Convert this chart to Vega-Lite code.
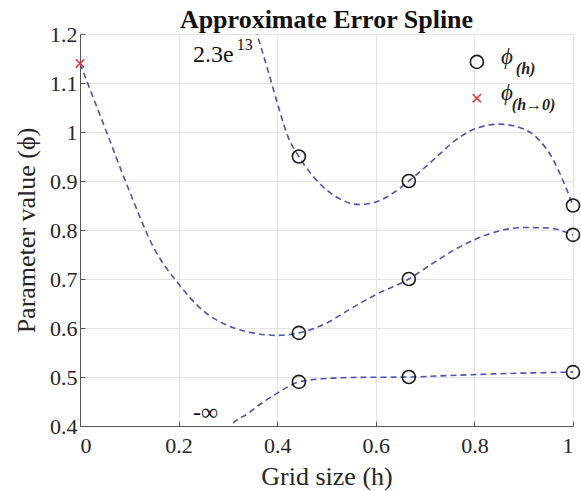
{
  "$schema": "https://vega.github.io/schema/vega-lite/v6.json",
  "width": 493,
  "height": 392,
  "autosize": {"type": "none"},
  "padding": {"left": 80, "top": 34, "right": 8, "bottom": 65},
  "background": "white",
  "title": {
    "text": "Approximate Error Spline",
    "font": "Liberation Serif, Times New Roman, serif",
    "fontSize": 26,
    "fontWeight": "bold",
    "color": "#111111",
    "anchor": "middle",
    "offset": -10
  },
  "config": {
    "view": {"stroke": null},
    "axis": {
      "labelFont": "Liberation Serif, Times New Roman, serif",
      "titleFont": "Liberation Serif, Times New Roman, serif",
      "labelFontSize": 22,
      "titleFontSize": 26,
      "titleFontWeight": "normal",
      "labelColor": "#262626",
      "titleColor": "#262626",
      "domainColor": "#555555",
      "tickColor": "#555555",
      "gridColor": "#e4e4e4",
      "gridWidth": 1
    }
  },
  "datasets": {
    "curves": [
      {"series": "upper", "h": 0.35, "phi": 1.23},
      {"series": "upper", "h": 0.359, "phi": 1.2},
      {"series": "upper", "h": 0.38, "phi": 1.13},
      {"series": "upper", "h": 0.4, "phi": 1.06},
      {"series": "upper", "h": 0.422, "phi": 0.99},
      {"series": "upper", "h": 0.444, "phi": 0.95},
      {"series": "upper", "h": 0.47, "phi": 0.913},
      {"series": "upper", "h": 0.5, "phi": 0.882},
      {"series": "upper", "h": 0.53, "phi": 0.862},
      {"series": "upper", "h": 0.565, "phi": 0.852},
      {"series": "upper", "h": 0.6, "phi": 0.857},
      {"series": "upper", "h": 0.63, "phi": 0.872},
      {"series": "upper", "h": 0.667, "phi": 0.9},
      {"series": "upper", "h": 0.72, "phi": 0.946},
      {"series": "upper", "h": 0.76, "phi": 0.982},
      {"series": "upper", "h": 0.8, "phi": 1.006},
      {"series": "upper", "h": 0.85, "phi": 1.016},
      {"series": "upper", "h": 0.9, "phi": 1.006},
      {"series": "upper", "h": 0.93, "phi": 0.985},
      {"series": "upper", "h": 0.96, "phi": 0.943},
      {"series": "upper", "h": 0.98, "phi": 0.9},
      {"series": "upper", "h": 1.0, "phi": 0.85},
      {"series": "middle", "h": 0.0, "phi": 1.14},
      {"series": "middle", "h": 0.05, "phi": 1.01},
      {"series": "middle", "h": 0.1, "phi": 0.88},
      {"series": "middle", "h": 0.15, "phi": 0.763},
      {"series": "middle", "h": 0.2, "phi": 0.69},
      {"series": "middle", "h": 0.25, "phi": 0.635},
      {"series": "middle", "h": 0.3, "phi": 0.605},
      {"series": "middle", "h": 0.35, "phi": 0.59},
      {"series": "middle", "h": 0.4, "phi": 0.585},
      {"series": "middle", "h": 0.444, "phi": 0.59},
      {"series": "middle", "h": 0.5, "phi": 0.61},
      {"series": "middle", "h": 0.55, "phi": 0.64},
      {"series": "middle", "h": 0.6, "phi": 0.668},
      {"series": "middle", "h": 0.667, "phi": 0.7},
      {"series": "middle", "h": 0.72, "phi": 0.735},
      {"series": "middle", "h": 0.76, "phi": 0.76},
      {"series": "middle", "h": 0.8, "phi": 0.78},
      {"series": "middle", "h": 0.85, "phi": 0.798},
      {"series": "middle", "h": 0.9, "phi": 0.805},
      {"series": "middle", "h": 0.95, "phi": 0.804},
      {"series": "middle", "h": 1.0, "phi": 0.79},
      {"series": "lower", "h": 0.29, "phi": 0.37},
      {"series": "lower", "h": 0.308, "phi": 0.402},
      {"series": "lower", "h": 0.34, "phi": 0.425},
      {"series": "lower", "h": 0.369, "phi": 0.447},
      {"series": "lower", "h": 0.4, "phi": 0.467},
      {"series": "lower", "h": 0.422, "phi": 0.48},
      {"series": "lower", "h": 0.444, "phi": 0.49},
      {"series": "lower", "h": 0.5, "phi": 0.497},
      {"series": "lower", "h": 0.55, "phi": 0.499},
      {"series": "lower", "h": 0.667, "phi": 0.5},
      {"series": "lower", "h": 0.75, "phi": 0.503},
      {"series": "lower", "h": 0.832, "phi": 0.506},
      {"series": "lower", "h": 0.9, "phi": 0.508},
      {"series": "lower", "h": 1.0, "phi": 0.51}
    ],
    "samples": [
      {"series": "upper", "h": 0.444, "phi": 0.95},
      {"series": "upper", "h": 0.667, "phi": 0.9},
      {"series": "upper", "h": 1.0, "phi": 0.85},
      {"series": "middle", "h": 0.444, "phi": 0.59},
      {"series": "middle", "h": 0.667, "phi": 0.7},
      {"series": "middle", "h": 1.0, "phi": 0.79},
      {"series": "lower", "h": 0.444, "phi": 0.49},
      {"series": "lower", "h": 0.667, "phi": 0.5},
      {"series": "lower", "h": 1.0, "phi": 0.51}
    ],
    "extrapolated": [
      {"h": 0.0, "phi": 1.14}
    ],
    "notes": [
      {"kind": "main", "h": 0.229, "phi": 1.143, "text": "2.3e"},
      {"kind": "sup", "h": 0.318, "phi": 1.167, "text": "13"},
      {"kind": "main", "h": 0.229, "phi": 0.412, "text": "-∞"}
    ],
    "legendSymbols": [
      {"kind": "circle", "h": 0.805, "phi": 1.143},
      {"kind": "cross", "h": 0.805, "phi": 1.069}
    ],
    "legendText": [
      {"kind": "phi", "h": 0.854, "phi": 1.139, "text": "ϕ"},
      {"kind": "sub", "h": 0.884, "phi": 1.118, "text": "(h)"},
      {"kind": "phi", "h": 0.854, "phi": 1.065, "text": "ϕ"},
      {"kind": "sub", "h": 0.876, "phi": 1.044, "text": "(h→0)"}
    ]
  },
  "encoding": {
    "x": {
      "field": "h",
      "type": "quantitative",
      "scale": {"domain": [0, 1], "nice": false, "zero": false},
      "axis": {
        "title": "Grid size (h)",
        "values": [0, 0.2, 0.4, 0.6, 0.8, 1],
        "format": "~g",
        "tickSize": -5,
        "labelPadding": 14,
        "titlePadding": 7,
        "grid": true
      }
    },
    "y": {
      "field": "phi",
      "type": "quantitative",
      "scale": {"domain": [0.4, 1.2], "nice": false, "zero": false},
      "axis": {
        "title": "Parameter value (ϕ)",
        "values": [0.4, 0.5, 0.6, 0.7, 0.8, 0.9, 1, 1.1, 1.2],
        "format": "~g",
        "tickSize": -5,
        "labelPadding": 8,
        "titlePadding": 10,
        "grid": true
      }
    }
  },
  "layer": [
    {
      "data": {"name": "curves"},
      "mark": {
        "type": "line",
        "clip": true,
        "interpolate": "monotone",
        "color": "#5050b0",
        "strokeWidth": 1.6,
        "strokeDash": [6, 4]
      },
      "encoding": {
        "detail": {"field": "series", "type": "nominal"}
      }
    },
    {
      "data": {"name": "samples"},
      "mark": {
        "type": "point",
        "shape": "circle",
        "filled": false,
        "size": 170,
        "stroke": "#1a1a1a",
        "strokeWidth": 1.6,
        "opacity": 1
      }
    },
    {
      "data": {"name": "extrapolated"},
      "mark": {
        "type": "point",
        "shape": "M-1,-1L1,1M-1,1L1,-1",
        "filled": false,
        "size": 70,
        "stroke": "#e03a3a",
        "strokeWidth": 1.6,
        "opacity": 1
      }
    },
    {
      "data": {"name": "notes"},
      "transform": [{"filter": "datum.kind === 'main'"}],
      "mark": {
        "type": "text",
        "align": "left",
        "baseline": "alphabetic",
        "font": "Liberation Serif, Times New Roman, serif",
        "fontSize": 24,
        "color": "#111111"
      },
      "encoding": {"text": {"field": "text"}}
    },
    {
      "data": {"name": "notes"},
      "transform": [{"filter": "datum.kind === 'sup'"}],
      "mark": {
        "type": "text",
        "align": "left",
        "baseline": "alphabetic",
        "font": "Liberation Serif, Times New Roman, serif",
        "fontSize": 16,
        "color": "#111111"
      },
      "encoding": {"text": {"field": "text"}}
    },
    {
      "data": {"name": "legendSymbols"},
      "transform": [{"filter": "datum.kind === 'circle'"}],
      "mark": {
        "type": "point",
        "shape": "circle",
        "filled": false,
        "size": 170,
        "stroke": "#1a1a1a",
        "strokeWidth": 1.6,
        "opacity": 1
      }
    },
    {
      "data": {"name": "legendSymbols"},
      "transform": [{"filter": "datum.kind === 'cross'"}],
      "mark": {
        "type": "point",
        "shape": "M-1,-1L1,1M-1,1L1,-1",
        "filled": false,
        "size": 70,
        "stroke": "#e03a3a",
        "strokeWidth": 1.6,
        "opacity": 1
      }
    },
    {
      "data": {"name": "legendText"},
      "transform": [{"filter": "datum.kind === 'phi'"}],
      "mark": {
        "type": "text",
        "align": "left",
        "baseline": "alphabetic",
        "font": "Liberation Serif, Times New Roman, serif",
        "fontSize": 23,
        "fontStyle": "italic",
        "color": "#222222"
      },
      "encoding": {"text": {"field": "text"}}
    },
    {
      "data": {"name": "legendText"},
      "transform": [{"filter": "datum.kind === 'sub'"}],
      "mark": {
        "type": "text",
        "align": "left",
        "baseline": "alphabetic",
        "font": "Liberation Serif, Times New Roman, serif",
        "fontSize": 16,
        "fontStyle": "italic",
        "fontWeight": "bold",
        "color": "#222222"
      },
      "encoding": {"text": {"field": "text"}}
    }
  ]
}
